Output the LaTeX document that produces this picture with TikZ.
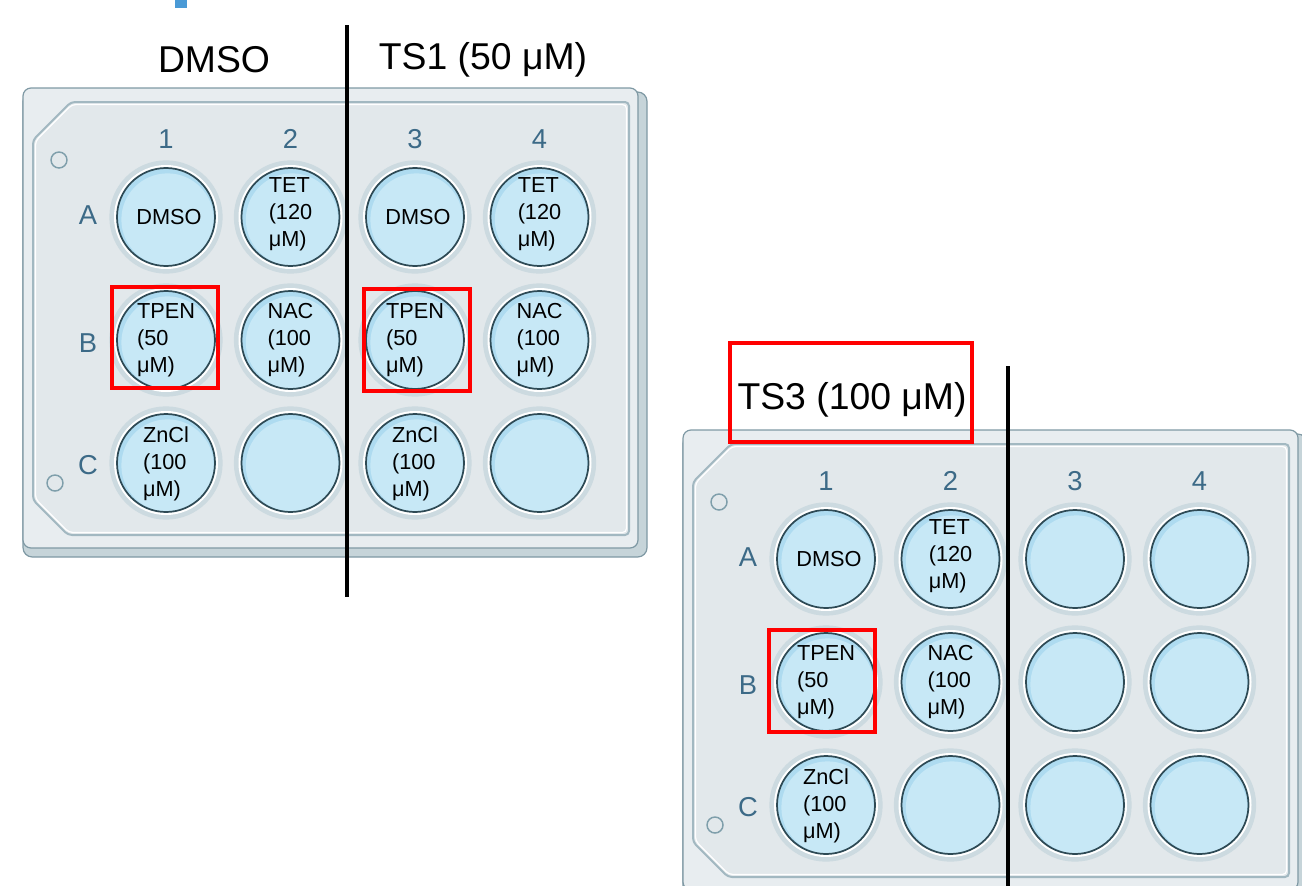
\documentclass[tikz,border=0pt]{standalone}
\usepackage{fontspec}
\setmainfont{Liberation Sans}
\definecolor{platebody}{HTML}{E8EDF0}
\definecolor{plateside}{HTML}{C6D4D9}
\definecolor{plateedge}{HTML}{7F99A4}
\definecolor{rimfill}{HTML}{E2E8EB}
\definecolor{rimline}{HTML}{A2B8C1}
\definecolor{halo}{HTML}{CCDAE0}
\definecolor{wellfill}{HTML}{C7E8F6}
\definecolor{wellshade}{HTML}{AEDBF0}
\definecolor{welledge}{HTML}{2E4A55}
\definecolor{lblc}{HTML}{3C6A87}
\definecolor{dotc}{HTML}{7F9FAB}
\definecolor{markblue}{HTML}{4A9AD6}
\definecolor{boxred}{HTML}{FF0000}
\newcommand\rimpath[1]{(33+#1,140+0.4*#1) -- (71+0.4*#1,102+#1) -- (629-#1,102+#1) -- (629-#1,535-#1) -- (68+0.4*#1,535-#1) -- (33+#1,500-0.4*#1) -- cycle}
\newcommand\platebase[1]{%
  \draw[plateedge, fill=plateside, line width=0.9pt, rounded corners=7pt] (23,92) rectangle (647,557);
  \draw[plateedge, fill=platebody, line width=0.9pt, rounded corners=6pt] (23,88) rectangle (638,548);
  \draw[rimline, fill=rimfill, line width=1.5pt, rounded corners=3pt] \rimpath{0};
  \draw[white, line width=0.9pt, rounded corners=3pt] \rimpath{2.5};
  \draw[dotc, line width=1.1pt] (59,160) circle (6pt);
  \draw[dotc, line width=1.1pt] (55,483) circle (6pt);
  \node[lbl] (#1c1) at (166,139) {1};
  \node[lbl] (#1c2) at (290.5,139) {2};
  \node[lbl] (#1c3) at (415,139) {3};
  \node[lbl] (#1c4) at (539.5,139) {4};
  \node[lbl] (#1rA) at (88,215) {A};
  \node[lbl] (#1rB) at (88,343) {B};
  \node[lbl] (#1rC) at (88,465) {C};
  \foreach \cx/\cn in {166/1,290.5/2,415/3,539.5/4}{
    \foreach \ry/\rn in {217/A,340/B,463/C}{
      \fill[halo] (\cx,\ry) circle (42.5pt);
      \fill[white] (\cx,\ry) circle (39pt);
      \node[well] (#1\rn\cn) at (\cx,\ry) {};
      \fill[wellfill] (\cx+1.5,\ry+2.5) circle (34.6pt);
      \draw[welledge, line width=1.3pt] (\cx,\ry) circle (36.75pt);
    }
  }
}
\begin{document}
\begin{tikzpicture}[x=0.75pt,y=-0.75pt,
  lbl/.style={text=lblc, font=\fontsize{20.5}{24}\selectfont, inner sep=0pt},
  hdr/.style={font=\fontsize{28}{34}\selectfont, inner sep=0pt},
  wtxt/.style={align=left, font=\fontsize{16.3}{20.2}\selectfont, inner sep=0pt},
  well/.style={circle, minimum size=73.5pt, inner sep=0pt, fill=wellshade},
  redbox/.style={draw=boxred, line width=3pt},
  divider/.style={line width=2.3pt, black}]
\useasboundingbox (0,0) rectangle (1302,885);
\begin{scope}
  \clip (0,0) rectangle (1302,885);
  \fill[markblue] (175,0) rectangle (187,8);
  \begin{scope}
    \platebase{pa}
    \node[wtxt] (paA1t) at (169,217) {DMSO};
    \node[wtxt] (paA2t) at (290.5,214) {TET\\(120\\μM)};
    \node[wtxt] (paB1t) at (166,340) {TPEN\\(50\\μM)};
    \node[wtxt] (paB2t) at (290.5,340) {NAC\\(100\\μM)};
    \node[wtxt] (paC1t) at (166,464) {ZnCl\\(100\\μM)};
    \node[wtxt] (paA3t) at (418,217) {DMSO};
    \node[wtxt] (paA4t) at (539.5,214) {TET\\(120\\μM)};
    \node[wtxt] (paB3t) at (415,340) {TPEN\\(50\\μM)};
    \node[wtxt] (paB4t) at (539.5,340) {NAC\\(100\\μM)};
    \node[wtxt] (paC3t) at (415,464) {ZnCl\\(100\\μM)};
  \end{scope}
  \begin{scope}[shift={(660,342)}]
    \platebase{pb}
    \node[wtxt] (pbA1t) at (169,217) {DMSO};
    \node[wtxt] (pbA2t) at (290.5,214) {TET\\(120\\μM)};
    \node[wtxt] (pbB1t) at (166,340) {TPEN\\(50\\μM)};
    \node[wtxt] (pbB2t) at (290.5,340) {NAC\\(100\\μM)};
    \node[wtxt] (pbC1t) at (166,464) {ZnCl\\(100\\μM)};
  \end{scope}
  \draw[divider] (347,25) -- (347,597);
  \draw[divider] (1008,366) -- (1008,890);
\end{scope}
\node[hdr] (h1) at (214,60) {DMSO};
\node[hdr] (h2) at (483,60) {TS1 (50 μM)};
\node[hdr] (h3) at (852,400) {TS3 (100 μM)};
\draw[redbox] (112,287) rectangle (218,388);
\draw[redbox] (364,289) rectangle (470,391);
\draw[redbox] (730,343) rectangle (972,442);
\draw[redbox] (769,630) rectangle (875,732);
\end{tikzpicture}
\end{document}
